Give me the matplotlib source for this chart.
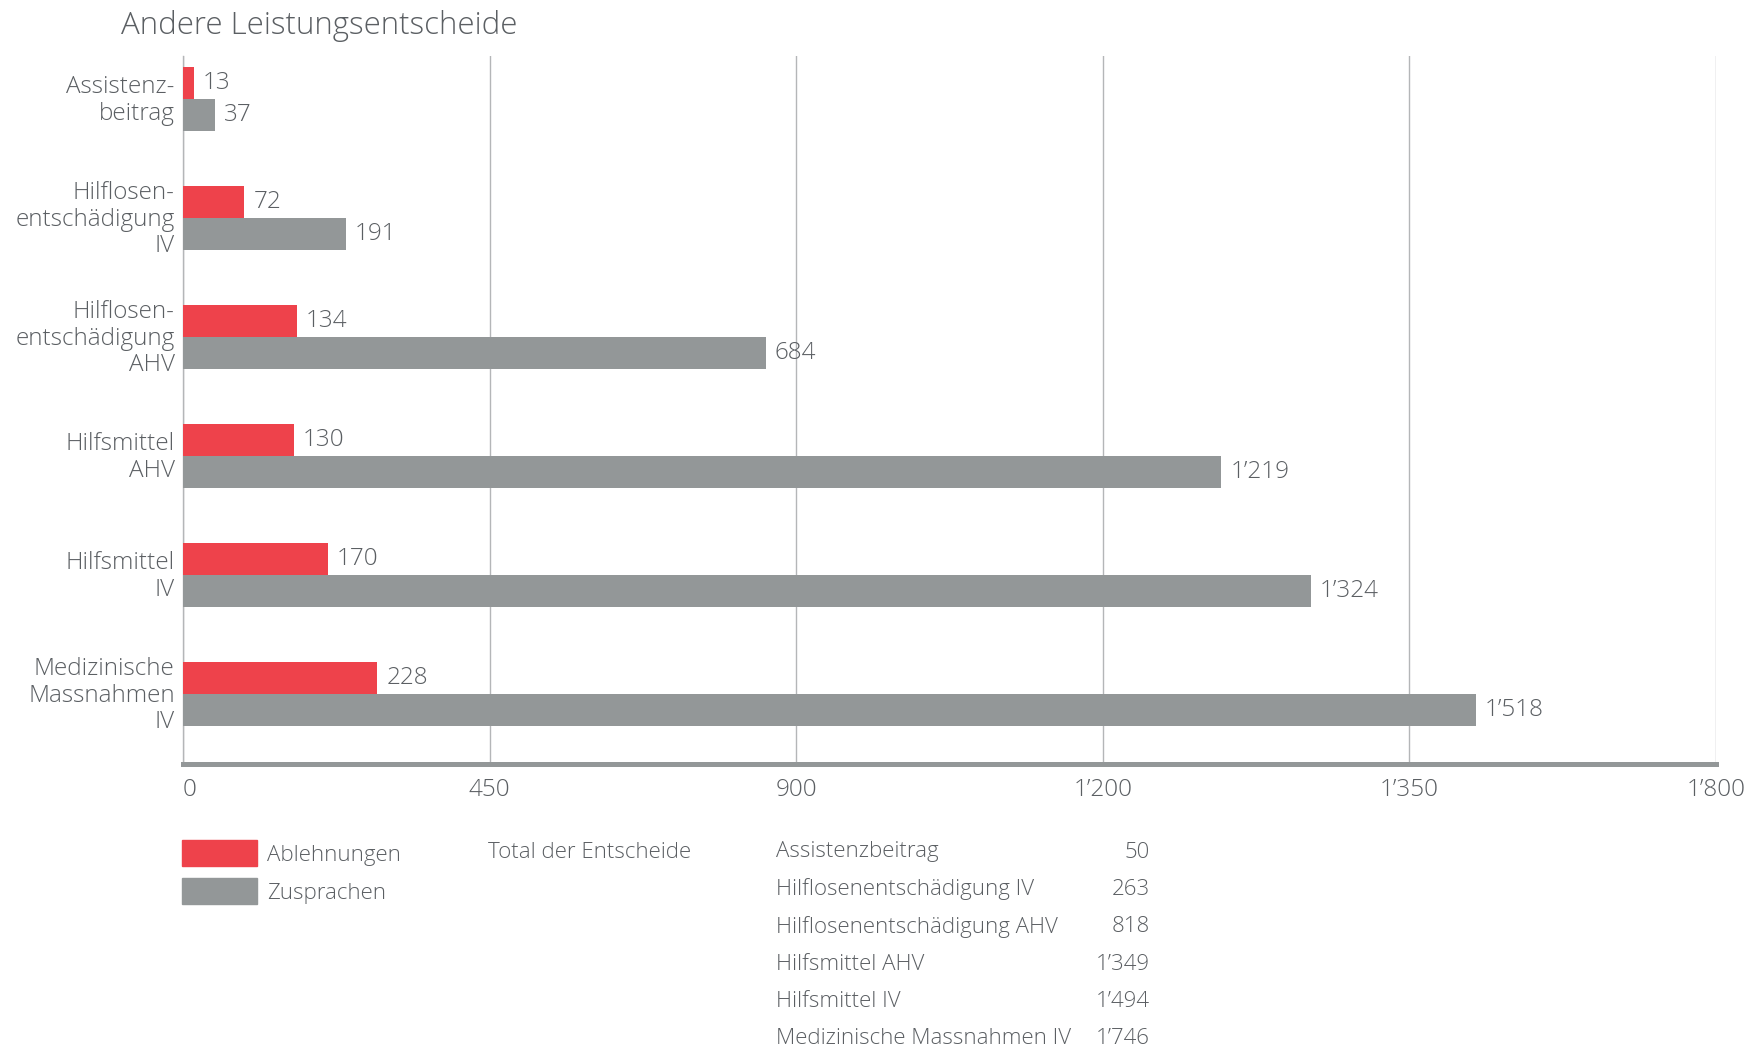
import numpy as np
import matplotlib
matplotlib.use("Agg")
import matplotlib.pyplot as plt
from matplotlib.patches import Rectangle

# Leistungsentscheide je Kategorie
CATEGORIES = ["Assistenz-\nbeitrag",
              "Hilflosen-\nentschädigung\nIV",
              "Hilflosen-\nentschädigung\nAHV",
              "Hilfsmittel\nAHV",
              "Hilfsmittel\nIV",
              "Medizinische\nMassnahmen\nIV"]
ABLEHNUNGEN = [13, 72, 134, 130, 170, 228]
ZUSPRACHEN  = [37, 191, 684, 1219, 1324, 1518]

TOTAL_NAMES  = ["Assistenzbeitrag", "Hilflosenentschädigung IV",
                "Hilflosenentschädigung AHV", "Hilfsmittel AHV",
                "Hilfsmittel IV", "Medizinische Massnahmen IV"]
TOTAL_VALUES = [50, 263, 818, 1349, 1494, 1746]

XTICK_LABELS = ["0", "450", "900", "1’200", "1’350", "1’800"]

RED  = "#ee424b"
GREY = "#939798"
TEXT = "#5b5f63"
GRID = "#b4b6b8"

plt.rcParams["font.family"] = ["Open Sans", "DejaVu Sans"]
plt.rcParams["font.weight"] = "light"


def fmt(v):
    return f"{v:,}".replace(",", "’")


W, H = 1750, 1047
fig = plt.figure(figsize=(W / 100, H / 100), dpi=100)

# axes box in pixel coordinates
left, right, top, bottom = 183, 1716, 56, 764
ax = fig.add_axes([left / W, 1 - bottom / H, (right - left) / W, (bottom - top) / H])

y = np.arange(len(CATEGORIES))
h = 0.27
ax.barh(y - h / 2, ABLEHNUNGEN, height=h, color=RED, zorder=3)
ax.barh(y + h / 2, ZUSPRACHEN, height=h, color=GREY, zorder=3)

for yi, a, z in zip(y, ABLEHNUNGEN, ZUSPRACHEN):
    ax.annotate(fmt(a), (a, yi - h / 2), xytext=(6.5, 0), textcoords="offset points",
                va="center", ha="left", fontsize=17.5, color=TEXT)
    ax.annotate(fmt(z), (z, yi + h / 2), xytext=(6.5, 0), textcoords="offset points",
                va="center", ha="left", fontsize=17.5, color=TEXT)

ax.set_xlim(0, 1800)
ax.set_ylim(5.59, -0.36)
ax.set_xticks(np.linspace(0, 1800, 6))
ax.set_xticklabels(XTICK_LABELS, fontsize=17.5, color=TEXT)
ax.get_xticklabels()[0].set_horizontalalignment("left")
ax.set_yticks(y - 0.02)
ax.set_yticklabels(CATEGORIES, fontsize=17.5, color=TEXT, linespacing=1.13)
ax.tick_params(axis="both", length=0)
ax.tick_params(axis="x", pad=10)
ax.tick_params(axis="y", pad=6)

ax.grid(axis="x", color=GRID, linewidth=1.0, zorder=0)
for s in ["top", "right"]:
    ax.spines[s].set_visible(False)
ax.spines["left"].set_color(GRID)
ax.spines["left"].set_linewidth(1.0)
ax.spines["bottom"].set_color(GREY)
ax.spines["bottom"].set_linewidth(3.6)
ax.spines["bottom"].set_zorder(4)

fig.text(121 / W, 1 - 26 / H, "Andere Leistungsentscheide", fontsize=22.5,
         color=TEXT, ha="left", va="center")

# legend
for color, label, yc in [(RED, "Ablehnungen", 853), (GREY, "Zusprachen", 891)]:
    fig.patches.append(Rectangle((182 / W, 1 - (yc + 13) / H), 75 / W, 26 / H,
                                 transform=fig.transFigure, color=color))
    fig.text(267 / W, 1 - (yc + 3) / H, label, fontsize=16, color=TEXT,
             ha="left", va="center")

fig.text(488 / W, 1 - 852 / H, "Total der Entscheide", fontsize=16, color=TEXT,
         ha="left", va="center")

for i, (name, val) in enumerate(zip(TOTAL_NAMES, TOTAL_VALUES)):
    yc = 852 + i * 37.4
    fig.text(776 / W, 1 - yc / H, name, fontsize=16, color=TEXT, ha="left", va="center")
    fig.text(1150 / W, 1 - yc / H, fmt(val), fontsize=16, color=TEXT, ha="right", va="center")

fig.savefig("out.png", dpi=100)
